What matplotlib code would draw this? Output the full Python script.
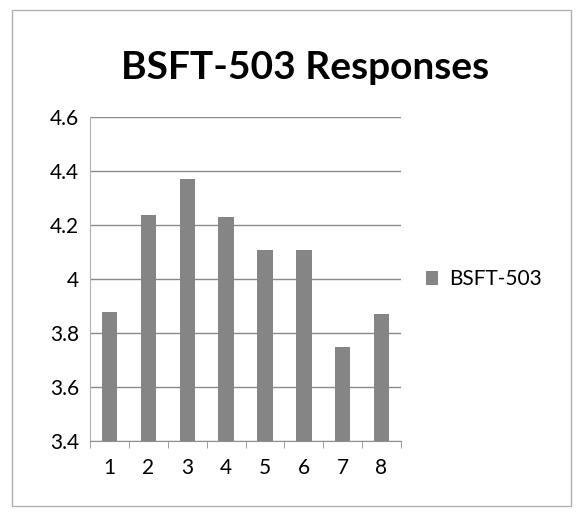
import matplotlib.pyplot as plt
from matplotlib.patches import Rectangle

plt.rcParams['font.family'] = ['Lato', 'DejaVu Sans']

categories = ['1', '2', '3', '4', '5', '6', '7', '8']
responses = [3.88, 4.24, 4.37, 4.23, 4.11, 4.11, 3.75, 3.87]
series_name = 'BSFT-503'
y_ticks = [3.4, 3.6, 3.8, 4.0, 4.2, 4.4, 4.6]
y_labels = ['3.4', '3.6', '3.8', '4', '4.2', '4.4', '4.6']

fig = plt.figure(figsize=(5.86, 5.22), dpi=100)
fig.patches.append(Rectangle((0.02, 0.03), 0.955, 0.95, transform=fig.transFigure,
                             fill=False, edgecolor='#b0b0b0', linewidth=1))

ax = fig.add_axes([0.154, 0.155, 0.53, 0.62])
x = range(len(categories))
ax.bar(x, responses, width=0.4, color='#858585', label=series_name, zorder=3)

ax.set_ylim(3.4, 4.6)
ax.set_xlim(-0.5, len(categories) - 0.5)
ax.set_yticks(y_ticks)
ax.set_yticklabels(y_labels, fontsize=15)
ax.set_xticks(list(x))
ax.set_xticklabels(categories, fontsize=15)
ax.tick_params(axis='y', length=0, pad=8)
ax.tick_params(axis='x', length=0, pad=12)
# category boundary ticks
ax.set_xticks([i - 0.5 for i in range(len(categories) + 1)], minor=True)
ax.tick_params(axis='x', which='minor', length=5, color='#909090')

ax.grid(axis='y', color='#8a8a8a', linewidth=1, zorder=0)
for s in ['top', 'right']:
    ax.spines[s].set_visible(False)
ax.spines['left'].set_color('#b0b0b0')
ax.spines['bottom'].set_color('#909090')

fig.text(0.52, 0.87, 'BSFT-503 Responses', ha='center', va='center',
         fontsize=28, fontweight='bold')

ax.legend(loc='center left', bbox_to_anchor=(1.02, 0.5), frameon=False,
          fontsize=15, handlelength=0.6, handleheight=0.6, handletextpad=0.5)

fig.savefig('out.png', dpi=100)
